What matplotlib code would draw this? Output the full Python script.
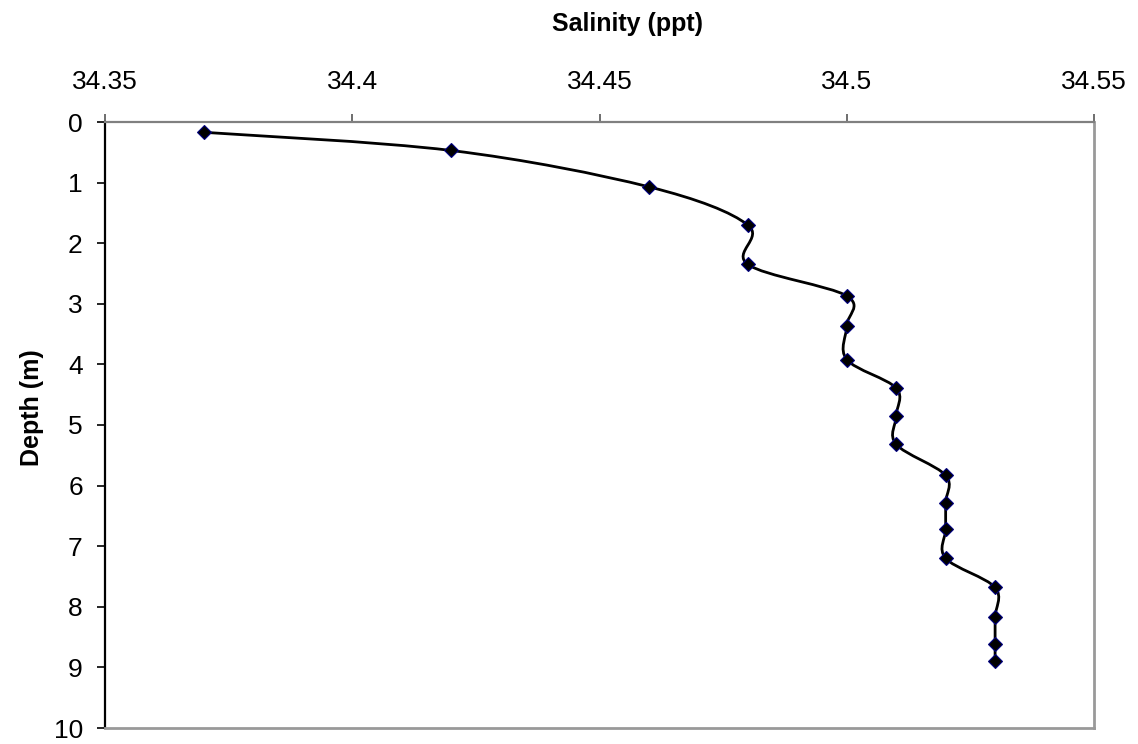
import matplotlib
matplotlib.use("Agg")
import matplotlib.pyplot as plt
from matplotlib.path import Path
from matplotlib.patches import PathPatch

plt.rcParams["font.family"] = ["Liberation Sans", "DejaVu Sans"]

# Perfil de salinidad
salinidad = [34.37, 34.42, 34.46, 34.48, 34.48, 34.50, 34.50, 34.50, 34.51, 34.51,
             34.51, 34.52, 34.52, 34.52, 34.52, 34.53, 34.53, 34.53, 34.53]
profundidad = [0.17, 0.47, 1.07, 1.70, 2.35, 2.87, 3.36, 3.92, 4.39, 4.85,
               5.32, 5.83, 6.28, 6.72, 7.20, 7.68, 8.17, 8.62, 8.89]
ticks_x = [34.35, 34.40, 34.45, 34.50, 34.55]
etiquetas_x = ["34.35", "34.4", "34.45", "34.5", "34.55"]
ticks_y = list(range(0, 11))

fig = plt.figure(figsize=(11.38, 7.44), dpi=100)
ax = fig.add_axes([105 / 1138, 1 - 728 / 744, (1094 - 105) / 1138, (728 - 122) / 744])

# Linea suavizada tipo Excel (Bezier con puntos de control Catmull-Rom)
pts = list(zip(salinidad, profundidad))
n = len(pts)
verts = [pts[0]]
codes = [Path.MOVETO]
for i in range(n - 1):
    p0 = pts[i - 1] if i > 0 else pts[i]
    p1 = pts[i]
    p2 = pts[i + 1]
    p3 = pts[i + 2] if i + 2 < n else pts[i + 1]
    c1 = (p1[0] + (p2[0] - p0[0]) / 6, p1[1] + (p2[1] - p0[1]) / 6)
    c2 = (p2[0] - (p3[0] - p1[0]) / 6, p2[1] - (p3[1] - p1[1]) / 6)
    verts += [c1, c2, p2]
    codes += [Path.CURVE4] * 3
ax.add_patch(PathPatch(Path(verts, codes), facecolor="none", edgecolor="black", lw=2, zorder=2))

ax.plot(salinidad, profundidad, linestyle="none", marker="D", markersize=7.5,
        markerfacecolor="black", markeredgecolor="#000080", markeredgewidth=0.8, zorder=3)

ax.set_xlim(34.35, 34.55)
ax.set_ylim(10, 0)
ax.xaxis.tick_top()
ax.set_xticks(ticks_x)
ax.set_xticklabels(etiquetas_x)
ax.set_yticks(ticks_y)
ax.tick_params(axis="x", direction="out", length=6, width=1.2, color="#555555", pad=14, labelsize=19)
ax.tick_params(axis="y", direction="out", length=6, width=1.2, color="black", pad=10, labelsize=19)

ax.spines["left"].set_color("black")
ax.spines["left"].set_linewidth(1.6)
ax.spines["top"].set_color("#808080")
ax.spines["top"].set_linewidth(1.6)
for s in ["right", "bottom"]:
    ax.spines[s].set_color("#999999")
    ax.spines[s].set_linewidth(2)

fig.text(628 / 1138, 1 - 24 / 744, "Salinity (ppt)", fontsize=18, fontweight="bold",
         ha="center", va="center")
fig.text(32 / 1138, 1 - 408 / 744, "Depth (m)", fontsize=18, fontweight="bold",
         ha="center", va="center", rotation=90)

fig.savefig("out.png", dpi=100)
